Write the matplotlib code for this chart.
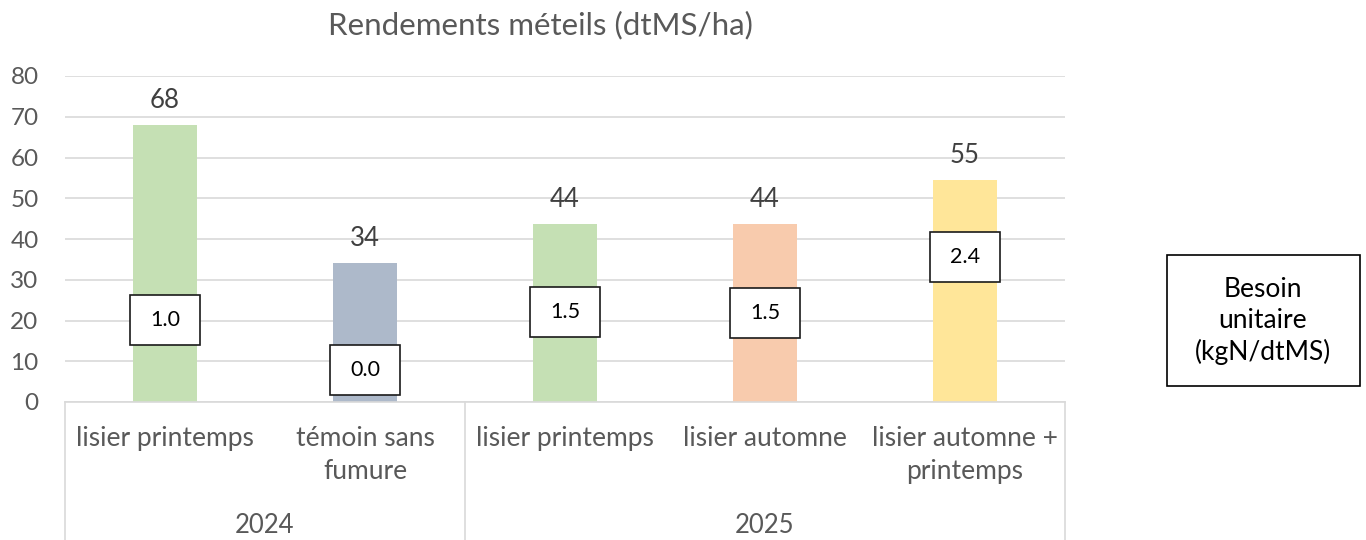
import matplotlib.pyplot as plt
from matplotlib.patches import Rectangle

# data
categories = ["lisier printemps", "témoin sans\nfumure", "lisier printemps",
              "lisier automne", "lisier automne +\nprintemps"]
years = ["2024", "2025"]
year_counts = [2, 3]
rendement = [68, 34, 43.6, 43.6, 54.6]
besoin = [1.0, 0.0, 1.5, 1.5, 2.4]
colors = ["#c5e0b4", "#adb9ca", "#c5e0b4", "#f8cbad", "#ffe699"]

# where the "besoin" boxes sit (y in data units, hand placed as in the original)
box_y = [20.1, 7.9, 22.1, 21.8, 35.6]

plt.rcParams['font.family'] = ['Lato', 'DejaVu Sans']
grey = "#595959"

fig = plt.figure(figsize=(13.66, 5.4), dpi=100)
ax = fig.add_axes([65/1366, 138/540, 1000/1366, 326/540])

x = list(range(len(categories)))
ax.bar(x, rendement, width=0.32, color=colors, zorder=2)
ax.set_xlim(-0.5, len(categories) - 0.5)
ax.set_ylim(0, 80)
ax.set_yticks(range(0, 81, 10))
ax.tick_params(axis='y', length=0, pad=19, labelsize=17.5, labelcolor=grey)
ax.set_xticks([])
ax.yaxis.grid(True, color="#d9d9d9", lw=1.2, zorder=0)
for s in ax.spines.values():
    s.set_visible(False)

# value labels on top of bars
for i, v in enumerate(rendement):
    ax.text(i, v + 6, f"{v:.0f}", ha='center', va='center', fontsize=18.5, color="#404040")

# besoin unitaire boxes
bw, bh = 0.35, 12.3
for i, (b, yy) in enumerate(zip(besoin, box_y)):
    ax.add_patch(Rectangle((i - bw/2, yy - bh/2), bw, bh, facecolor='white',
                           edgecolor='#1a1a1a', lw=1.2, zorder=4))
    ax.text(i, yy, f"{b:.1f}", ha='center', va='center', fontsize=15.5, color='black', zorder=5)

# category axis drawn as table below the plot
tr = ax.get_xaxis_transform()
ax.plot([-0.5, len(categories) - 0.5], [0, 0], color="#d9d9d9", lw=1.2, transform=tr, clip_on=False)
for i, c in enumerate(categories):
    ax.text(i, -0.075, c, ha='center', va='top', fontsize=19, color=grey,
            transform=tr, linespacing=1.4)
start = -0.5
edges = [start]
for y_label, n in zip(years, year_counts):
    ax.text(start + n/2, -0.378, y_label, ha='center', va='center', fontsize=18.5,
            color=grey, transform=tr)
    start += n
    edges.append(start)
for e in edges:
    ax.plot([e, e], [0, -0.43], color="#d9d9d9", lw=1.2, transform=tr, clip_on=False)

fig.text(540/1366, 1 - 25/540, "Rendements méteils (dtMS/ha)", ha='center', va='center',
         fontsize=22.5, color=grey)

# legend-like box
fig.text(1263/1366, 1 - 321/540, "Besoin\nunitaire\n(kgN/dtMS)", ha='center', va='center',
         fontsize=19, color='black', linespacing=1.3)
fig.patches.append(Rectangle((1167/1366, 1 - 386/540), 193/1366, 131/540, transform=fig.transFigure,
                             facecolor='none', edgecolor='black', lw=1.2))

fig.savefig("out.png", dpi=100)
